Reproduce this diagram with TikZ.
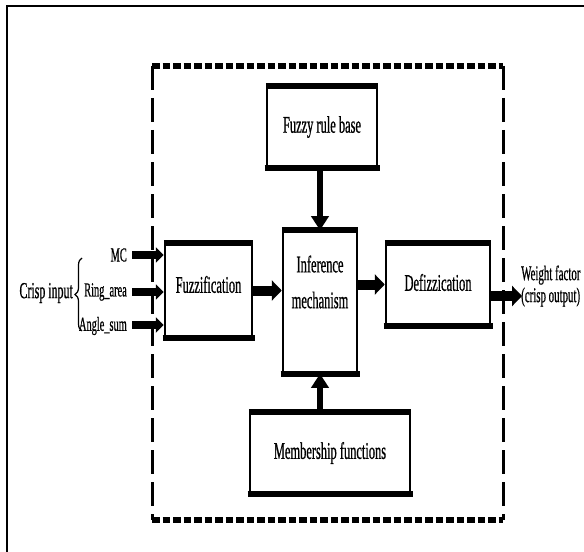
\documentclass[tikz,border=0pt]{standalone}
\usepackage{fontspec}
\setmainfont{Liberation Serif}[FakeStretch=0.52,FakeBold=0.6]
\usetikzlibrary{arrows.meta,decorations.pathreplacing,positioning}
\tikzset{
  blockbox/.style={draw, line width=2.5bp, inner sep=0pt, align=center,
    font=\fontsize{24}{36}\selectfont},
  boxtext/.style={inner sep=0pt, align=center, font=\fontsize{24}{36}\selectfont},
  bigarrow/.style={line width=10bp, -{Triangle[length=10bp,width=20bp]}},
  inarrow/.style={line width=8bp, -{Triangle[length=8bp,width=15bp]}},
  vertarrow/.style={line width=6bp, -{Triangle[length=14bp,width=17bp]}},
  inlabel/.style={inner sep=0pt, font=\fontsize{20}{22}\selectfont},
}
\begin{document}
\begin{tikzpicture}[x=1bp,y=-1bp]
\useasboundingbox (0,0) rectangle (584,552);
% frame of the figure and the dashed system border
\draw[line width=1.5bp] (7,552) -- (7,6) -- (584,6);
\draw[line width=6bp, dash pattern=on 7.5bp off 3bp] (152,66) -- (503,66) (152,520) -- (503,520);
\draw[line width=3bp, dash pattern=on 24bp off 8bp] (152,66) -- (152,520) (503,66) -- (503,520);

\node[blockbox, minimum width=110bp, minimum height=80bp] (rb) at (322,127) {Fuzzy rule base};
\node[blockbox, minimum width=87bp, minimum height=93bp] (fz) at (208.5,290.5) {};
\node[boxtext] (fztext) at ([yshift=6bp]fz.center) {Fuzzification};
\node[blockbox, minimum width=74bp, minimum height=141bp] (im) at (320,302) {};
\node[boxtext] (imtext) at ([yshift=20bp]im.center) {Inference\\mechanism};
\node[blockbox, minimum width=104bp, minimum height=81bp] (dz) at (438,284.5) {};
\node[boxtext] (dztext) at ([yshift=2bp]dz.center) {Defizzication};
\node[blockbox, minimum width=160bp, minimum height=80bp] (mf) at (330,453) {Membership functions};
% heavy top and bottom edges
\foreach \b in {rb,fz,im,dz,mf}
  \draw[line width=6bp, shorten <=-1.25bp, shorten >=-1.25bp] (\b.north west) -- (\b.north east) (\b.south west) -- (\b.south east);

% crisp inputs
\node[inlabel, anchor=east] (mc) at (127,255) {MC};
\node[inlabel, anchor=east] (ring) at (127,292) {Ring\_area};
\node[inlabel, anchor=east] (angle) at (127,326) {Angle\_sum};
\draw[decorate, decoration={brace, amplitude=7bp}, line width=1.2bp] (82,331) -- (82,258);
\node[inlabel, font=\fontsize{23}{24}\selectfont, anchor=east] (crisp) at (73,293) {Crisp input};
\coordinate (in1) at (132,255);
\coordinate (in2) at (132,292);
\coordinate (in3) at (132,325);
\foreach \c in {in1,in2,in3}
  \draw[inarrow] (\c) -- (fz.west |- \c);

\draw[bigarrow] (fz.east) -- (fz.east -| im.west);
\draw[bigarrow] (im.east |- dz.west) -- (dz.west);
\draw[vertarrow] (im.north |- rb.south) -- (im.north);
\draw[vertarrow] (im.south |- mf.north) -- (im.south);

% crisp output
\coordinate (out) at (522,296);
\draw[bigarrow] (dz.east |- out) -- (out);
\node[inlabel, font=\fontsize{21}{22}\selectfont, anchor=west, align=left] (wf) at (521,286) {Weight factor\\(crisp output)};
\end{tikzpicture}
\end{document}
